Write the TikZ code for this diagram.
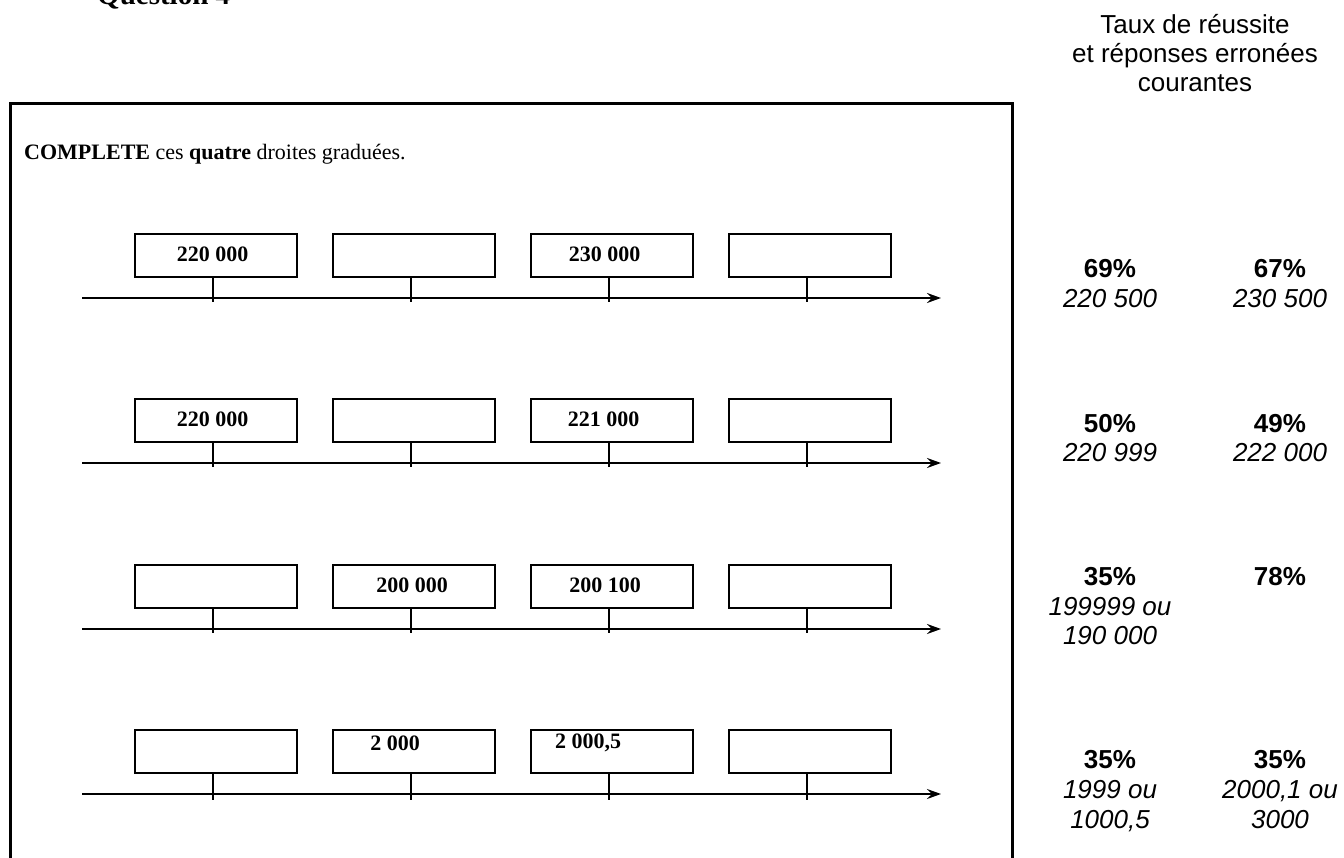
\documentclass[tikz,border=0pt]{standalone}
\usepackage{fontspec}
\setmainfont{Liberation Serif}
\newfontfamily\arial{Liberation Sans}
\usetikzlibrary{arrows.meta}
\tikzset{
  box/.style={draw, line width=2pt, minimum width=162pt, minimum height=43pt, inner sep=0pt},
  lbl/.style={font=\bfseries\fontsize{22}{24}\selectfont, inner sep=0pt},
  axisline/.style={line width=2pt, -{Stealth[length=14pt,width=10pt,inset=5pt]}},
  tickline/.style={line width=2pt},
  pct/.style={font=\arial\bfseries\fontsize{26}{28}\selectfont, anchor=base, inner sep=0pt},
  err/.style={font=\arial\itshape\fontsize{26}{28}\selectfont, anchor=base, inner sep=0pt},
  hdr/.style={font=\arial\fontsize{26}{28}\selectfont, anchor=base, inner sep=0pt}
}
\begin{document}
\begin{tikzpicture}[x=1pt,y=-1pt]
\useasboundingbox (0,0) rectangle (1344,858);
% title (cut at top)
\node[anchor=base west, inner sep=0pt, font=\bfseries\fontsize{29}{30}\selectfont] (q) at (97,5) {Question 4};
% frame
\draw[line width=3pt] (10,862) -- (10,104) -- (1012,104) -- (1012,862);
% instruction
\node[anchor=base west, inner sep=0pt, font=\fontsize{22}{24}\selectfont] (instr) at (24,160) {\textbf{COMPLETE} ces \textbf{quatre} droites graduées.};
% header right
\node[hdr] (h1) at (1195,34) {Taux de réussite};
\node[hdr] (h2) at (1195,63) {et réponses erronées};
\node[hdr] (h3) at (1195,92) {courantes};

% ---------- row 1 ----------
\node[box] (b11) at (216,255.5) {};
\node[box] (b12) at (414,255.5) {};
\node[box] (b13) at (612,255.5) {};
\node[box] (b14) at (810,255.5) {};
\node[lbl] (l11) at (212.5,254.5) {220 000};
\node[lbl] (l13) at (604.5,254.5) {230 000};
\coordinate (a1s) at (82,298);
\coordinate (a1e) at (941,298);
\draw[axisline] (a1s) -- (a1e);
\coordinate (t11) at (213,302);
\coordinate (t12) at (411,302);
\coordinate (t13) at (609,302);
\coordinate (t14) at (807,302);
\foreach \i in {1,2,3,4}{\draw[tickline] (b1\i.south -| t1\i) -- (t1\i);}

% ---------- row 2 ----------
\node[box] (b21) at (216,420.5) {};
\node[box] (b22) at (414,420.5) {};
\node[box] (b23) at (612,420.5) {};
\node[box] (b24) at (810,420.5) {};
\node[lbl] (l21) at (212.5,419.5) {220 000};
\node[lbl] (l23) at (603.5,419.5) {221 000};
\coordinate (a2s) at (82,463);
\coordinate (a2e) at (941,463);
\draw[axisline] (a2s) -- (a2e);
\coordinate (t21) at (213,467);
\coordinate (t22) at (411,467);
\coordinate (t23) at (609,467);
\coordinate (t24) at (807,467);
\foreach \i in {1,2,3,4}{\draw[tickline] (b2\i.south -| t2\i) -- (t2\i);}

% ---------- row 3 ----------
\node[box] (b31) at (216,586) {};
\node[box] (b32) at (414,586) {};
\node[box] (b33) at (612,586) {};
\node[box] (b34) at (810,586) {};
\node[lbl] (l32) at (412,585) {200 000};
\node[lbl] (l33) at (605,585) {200 100};
\coordinate (a3s) at (82,629);
\coordinate (a3e) at (941,629);
\draw[axisline] (a3s) -- (a3e);
\coordinate (t31) at (213,633);
\coordinate (t32) at (411,633);
\coordinate (t33) at (609,633);
\coordinate (t34) at (807,633);
\foreach \i in {1,2,3,4}{\draw[tickline] (b3\i.south -| t3\i) -- (t3\i);}

% ---------- row 4 ----------
\node[box] (b41) at (216,751) {};
\node[box] (b42) at (414,751) {};
\node[box] (b43) at (612,751) {};
\node[box] (b44) at (810,751) {};
\node[lbl] (l42) at (395,743) {2 000};
\node[lbl] (l43) at (588,743) {2 000,5};
\coordinate (a4s) at (82,794);
\coordinate (a4e) at (941,794);
\draw[axisline, line width=1.5pt] (a4s) -- (a4e);
\coordinate (t41) at (213,800);
\coordinate (t42) at (411,800);
\coordinate (t43) at (609,800);
\coordinate (t44) at (807,800);
\foreach \i in {1,2,3,4}{\draw[tickline, line width=1.5pt] (b4\i.south -| t4\i) -- (t4\i);}

% ---------- right column ----------
\node[pct] (p11) at (1110,278) {69\%};
\node[pct] (p12) at (1280,278) {67\%};
\node[err] (e11) at (1110,308) {220 500};
\node[err] (e12) at (1280,308) {230 500};

\node[pct] (p21) at (1110,432) {50\%};
\node[pct] (p22) at (1280,432) {49\%};
\node[err] (e21) at (1110,461) {220 999};
\node[err] (e22) at (1280,461) {222 000};

\node[pct] (p31) at (1110,585) {35\%};
\node[pct] (p32) at (1280,585) {78\%};
\node[err] (e31) at (1110,615) {199999 ou};
\node[err] (e31b) at (1110,644) {190 000};

\node[pct] (p41) at (1110,768) {35\%};
\node[pct] (p42) at (1280,768) {35\%};
\node[err] (e41) at (1110,798) {1999 ou};
\node[err] (e41b) at (1110,828) {1000,5};
\node[err] (e42) at (1280,798) {2000,1 ou};
\node[err] (e42b) at (1280,828) {3000};
\end{tikzpicture}
\end{document}
